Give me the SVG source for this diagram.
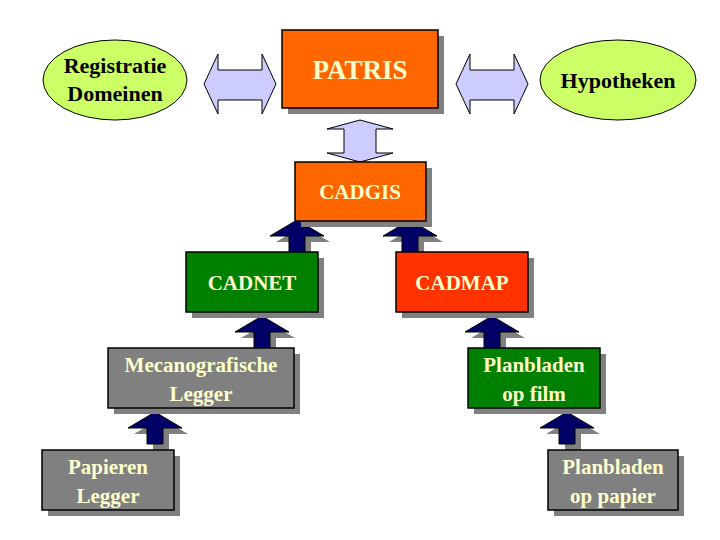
<svg xmlns="http://www.w3.org/2000/svg" width="720" height="540" viewBox="0 0 720 540">
<style>
.box{stroke:#000;stroke-width:1.5}
.sh{fill:#808080}
.t{font-family:"Liberation Serif",serif;font-weight:bold;font-size:21px;fill:#FFFFCC;text-anchor:middle}
.e{font-family:"Liberation Serif",serif;font-weight:bold;font-size:22px;fill:#000;text-anchor:middle}
.dbl{fill:#CCCCFF;stroke:#000;stroke-width:1}
.up{fill:#000066;stroke:#000;stroke-width:1}
</style>
<defs>
<path id="uparrow" d="M0,0 L27,16 L8,16 L8,32 L-8,32 L-8,16 L-27,16 Z"/>
</defs>
<rect width="720" height="540" fill="#fff"/>
<g id="connectors">
<path class="dbl" d="M204,84 L218,54 L218,70 L262,70 L262,54 L276,84 L262,114 L262,100 L218,100 L218,114 Z"/>
<path class="dbl" d="M456,84 L470,54 L470,70 L514,70 L514,54 L528,84 L514,114 L514,100 L470,100 L470,114 Z"/>
<path class="dbl" d="M360,120 L393,129 L376,129 L376,153 L393,153 L360,162 L327,153 L344,153 L344,129 L327,129 Z"/>
<g>
<use href="#uparrow" x="303" y="226" class="sh"/><use href="#uparrow" x="297" y="220" class="up"/>
<use href="#uparrow" x="416" y="226" class="sh"/><use href="#uparrow" x="410" y="220" class="up"/>
<use href="#uparrow" x="268" y="322" class="sh"/><use href="#uparrow" x="262" y="316" class="up"/>
<use href="#uparrow" x="498" y="322" class="sh"/><use href="#uparrow" x="492" y="316" class="up"/>
<use href="#uparrow" x="161" y="418" class="sh"/><use href="#uparrow" x="155" y="412" class="up"/>
<use href="#uparrow" x="573" y="418" class="sh"/><use href="#uparrow" x="567" y="412" class="up"/>
</g>
</g>
<g id="registratie"><ellipse cx="115" cy="80" rx="72" ry="40" fill="#CCFF66" stroke="#000"/><text class="e" x="115" y="73">Registratie</text><text class="e" x="115" y="101">Domeinen</text></g>
<g id="hypotheken"><ellipse cx="618" cy="80" rx="78" ry="40" fill="#CCFF66" stroke="#000"/><text class="e" x="618" y="88">Hypotheken</text></g>
<g id="patris"><rect class="sh" x="288" y="36" width="156" height="78"/><rect class="box" x="282" y="30" width="156" height="78" fill="#FF6600"/><text class="t" x="360" y="79" style="font-size:27px">PATRIS</text></g>
<g id="cadgis"><rect class="sh" x="301" y="168" width="131" height="59"/><rect class="box" x="295" y="162" width="131" height="59" fill="#FF6600"/><text class="t" x="360" y="199">CADGIS</text></g>
<g id="cadnet"><rect class="sh" x="192" y="258" width="132" height="60"/><rect class="box" x="186" y="252" width="132" height="60" fill="#008000"/><text class="t" x="252" y="290">CADNET</text></g>
<g id="cadmap"><rect class="sh" x="402" y="258" width="132" height="60"/><rect class="box" x="396" y="252" width="132" height="60" fill="#FF3300"/><text class="t" x="462" y="290">CADMAP</text></g>
<g id="mecano"><rect class="sh" x="114" y="354" width="186" height="60"/><rect class="box" x="108" y="348" width="186" height="60" fill="#808080"/><text class="t" x="201" y="372">Mecanografische</text><text class="t" x="201" y="401">Legger</text></g>
<g id="film"><rect class="sh" x="474" y="354" width="132" height="60"/><rect class="box" x="468" y="348" width="132" height="60" fill="#008000"/><text class="t" x="534" y="372">Planbladen</text><text class="t" x="534" y="401">op film</text></g>
<g id="papieren"><rect class="sh" x="48" y="456" width="132" height="60"/><rect class="box" x="42" y="450" width="132" height="60" fill="#808080"/><text class="t" x="108" y="474">Papieren</text><text class="t" x="108" y="503">Legger</text></g>
<g id="papier"><rect class="sh" x="554" y="456" width="130" height="60"/><rect class="box" x="548" y="450" width="130" height="60" fill="#808080"/><text class="t" x="613" y="474">Planbladen</text><text class="t" x="613" y="503">op papier</text></g>
</svg>
